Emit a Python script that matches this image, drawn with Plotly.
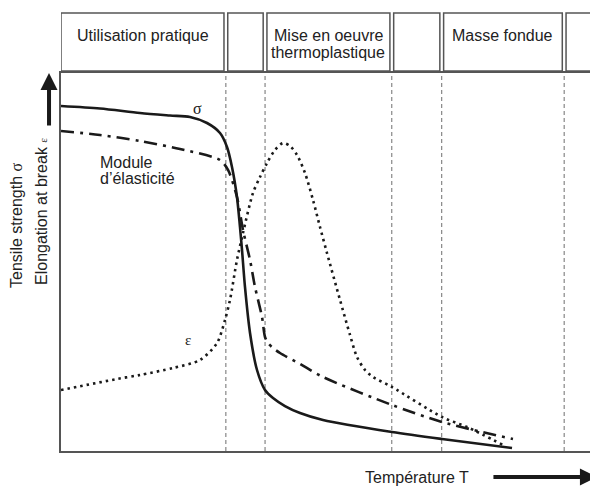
import plotly.graph_objects as go

# temperature zones (boundaries in arbitrary T units, 0-100)
zone_edges = [0, 30.7, 38.0, 61.6, 70.9, 93.7, 100]
zone_labels = [["Utilisation pratique"], [], ["Mise en oeuvre", "thermoplastique"],
               [], ["Masse fondue"], []]

# tensile strength sigma (solid)
sigma_t = [0, 7.26, 14.71, 20.30, 24.02, 27.19, 29.61, 30.91, 31.84, 32.77,
           33.33, 33.71, 34.26, 35.20, 36.50, 37.99, 39.48, 41.71, 44.51,
           48.79, 61.64, 70.95, 83.99]
sigma_v = [91.27, 90.61, 89.42, 88.76, 88.36, 86.77, 84.13, 80.42, 75.13,
           67.20, 59.26, 53.17, 43.39, 31.22, 21.43, 16.14, 14.02, 11.90,
           10.05, 8.20, 5.03, 3.17, 0.79]

# modulus of elasticity (dash-dot)
modulus_t = [0, 7.26, 14.71, 22.16, 29.61, 31.10, 32.77, 33.89, 35.20, 36.13,
             37.43, 37.99, 38.55, 39.48, 40.78, 44.51, 48.79, 61.64, 70.95,
             84.17]
modulus_v = [84.66, 83.60, 82.01, 79.89, 76.98, 74.34, 67.20, 58.47, 50.53,
             43.39, 35.45, 30.16, 28.57, 27.25, 25.93, 23.02, 19.58, 12.17,
             7.67, 3.17]

# elongation at break epsilon (dotted)
eps_t = [0, 10.43, 14.71, 20.86, 25.88, 29.05, 30.54, 31.47, 32.77, 33.89,
         35.75, 37.06, 38.36, 39.85, 41.34, 42.64, 43.95, 45.44, 46.93, 48.23,
         49.53, 51.96, 53.82, 55.12, 56.61, 58.10, 61.64, 70.95, 75.61, 82.31]
eps_v = [16.14, 19.05, 20.11, 21.96, 24.07, 28.57, 34.66, 39.95, 50.53, 57.67,
         68.25, 72.49, 76.19, 79.63, 81.48, 80.69, 78.31, 73.54, 66.40, 59.26,
         52.38, 39.95, 30.69, 24.87, 21.43, 19.58, 16.93, 8.99, 6.35, 1.59]

SANS = "Liberation Sans, Arial, sans-serif"
SERIF = "Liberation Serif, Times New Roman, serif"
INK = "#1a1a1a"
TXT = "#222222"
GRID = "#6e6e6e"

fig = go.Figure()

fig.add_trace(go.Scatter(x=sigma_t, y=sigma_v, mode="lines",
                         line=dict(color=INK, width=2.6, shape="spline", smoothing=0.8)))
fig.add_trace(go.Scatter(x=modulus_t, y=modulus_v, mode="lines",
                         line=dict(color=INK, width=2.6, shape="spline", smoothing=0.8,
                                   dash="13px,6px,3px,6px")))
fig.add_trace(go.Scatter(x=eps_t, y=eps_v, mode="lines",
                         line=dict(color=INK, width=2.6, shape="spline", smoothing=0.8,
                                   dash="2.5px,4px")))

# zone header boxes
inset = 0.35
for i, lines in enumerate(zone_labels):
    x0 = zone_edges[i] + (inset if i > 0 else 0)
    x1 = zone_edges[i + 1] - inset if i < len(zone_labels) - 1 else 101
    fig.add_shape(type="rect", xref="x", yref="paper", x0=x0, x1=x1,
                  y0=1.0053, y1=1.1587, line=dict(color="#555555", width=1.5))
    for k, line in enumerate(lines):
        fig.add_annotation(x=(zone_edges[i] + zone_edges[i + 1]) / 2,
                           y=1.1005 - 0.045 * k, xref="x", yref="paper",
                           xanchor="center", yanchor="middle",
                           text=line, showarrow=False,
                           font=dict(family=SANS, size=16, color=TXT))

# zone separators
for edge in zone_edges[1:-1]:
    fig.add_shape(type="line", xref="x", yref="paper", x0=edge, x1=edge,
                  y0=0, y1=1, layer="below",
                  line=dict(color=GRID, width=1, dash="4px,3px"))

# curve labels
fig.add_annotation(x=25.33, y=90.6, text="σ", showarrow=False,
                   font=dict(family=SERIF, size=16, color=INK))
fig.add_annotation(x=23.65, y=29.4, text="ε", showarrow=False,
                   font=dict(family=SERIF, size=15, color=INK))
for k, line in enumerate(["Module", "d’élasticité"]):
    fig.add_annotation(x=6.9, y=76.2 - 4.0 * k, text=line, showarrow=False,
                       xanchor="left", yanchor="middle",
                       font=dict(family=SANS, size=16, color=TXT))

# axis titles
fig.add_annotation(x=-0.0819, y=0.598, xref="paper", yref="paper",
                   xanchor="center", yanchor="middle",
                   text="Tensile strength <span style='font-family:Liberation Serif'>σ</span>",
                   textangle=-90, showarrow=False,
                   font=dict(family=SANS, size=16, color=TXT))
fig.add_annotation(x=-0.0354, y=0.635, xref="paper", yref="paper",
                   xanchor="center", yanchor="middle",
                   text="Elongation at break <span style='font-family:Liberation Serif;font-size:11px'>ε</span>",
                   textangle=-90, showarrow=False,
                   font=dict(family=SANS, size=16, color=TXT))
fig.add_annotation(x=0.663, y=-0.0714, xref="paper", yref="paper",
                   xanchor="center", yanchor="middle",
                   text="Température T", showarrow=False,
                   font=dict(family=SANS, size=16, color=TXT))

# axis arrows
fig.add_annotation(x=-0.0223, y=1.0, xref="paper", yref="paper", text="",
                   showarrow=True, ax=0, ay=54, arrowhead=2, arrowsize=0.85,
                   arrowwidth=4, arrowcolor=INK)
fig.add_annotation(x=0.998, y=-0.0688, xref="paper", yref="paper", text="",
                   showarrow=True, ax=-105, ay=0, arrowhead=2, arrowsize=0.85,
                   arrowwidth=4, arrowcolor=INK)

fig.update_xaxes(range=[0, 100], showgrid=False, zeroline=False,
                 showticklabels=False, ticks="", showline=True,
                 linecolor="#555555", linewidth=1.5, mirror=True)
fig.update_yaxes(range=[0, 100], showgrid=False, zeroline=False,
                 showticklabels=False, ticks="", showline=True,
                 linecolor="#555555", linewidth=1.5)

# page body has an 8px margin, so the figure is 8px smaller and shifted
fig.update_layout(showlegend=False, width=590, height=479,
                  plot_bgcolor="white", paper_bgcolor="white",
                  margin=dict(l=53, r=0, t=65, b=36))

fig.write_html("out.html")
